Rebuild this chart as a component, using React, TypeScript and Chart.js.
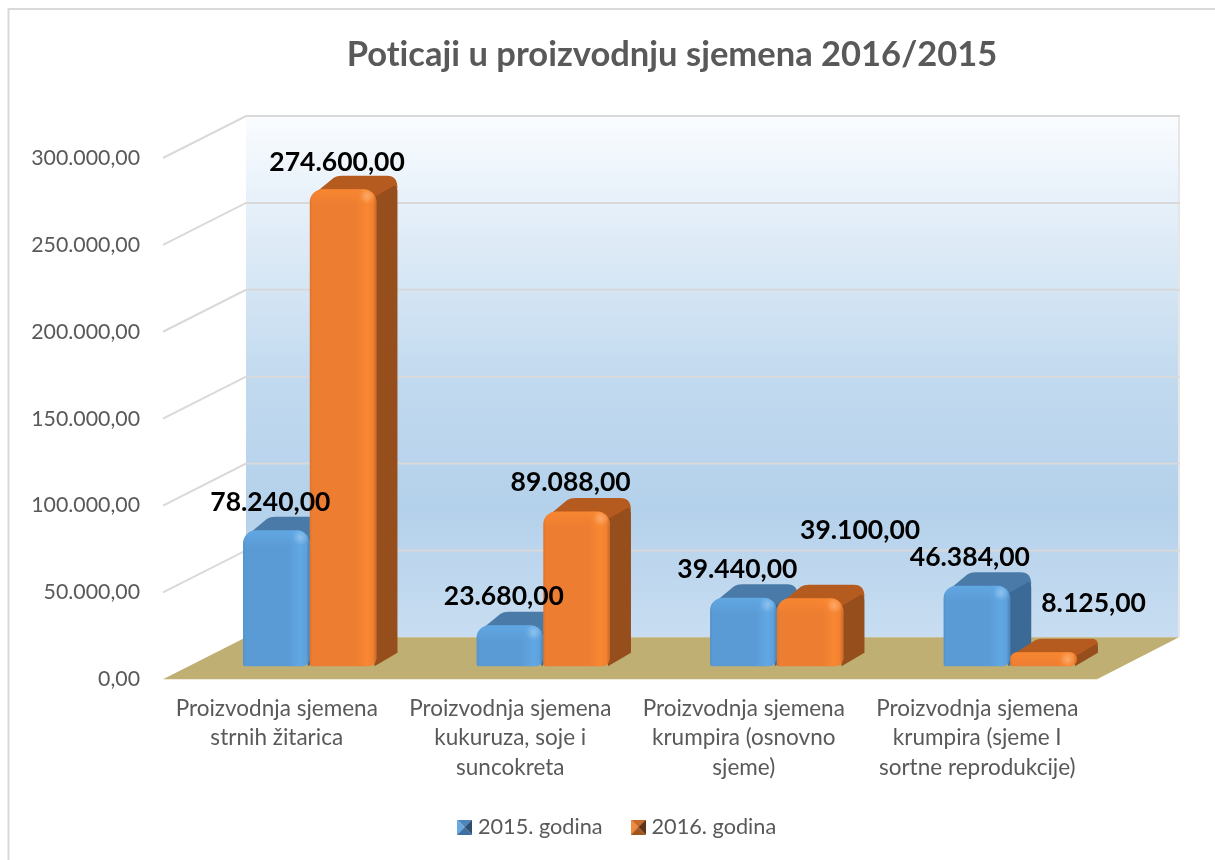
import React, { useEffect, useRef } from "react";
import { Chart, registerables } from "chart.js";

Chart.register(...registerables);

const chartTitle = "Poticaji u proizvodnju sjemena 2016/2015";
const categories = [
  ["Proizvodnja sjemena", "strnih žitarica"],
  ["Proizvodnja sjemena", "kukuruza, soje i", "suncokreta"],
  ["Proizvodnja sjemena", "krumpira (osnovno", "sjeme)"],
  ["Proizvodnja sjemena", "krumpira (sjeme I", "sortne reprodukcije)"],
];
const seriesNames = ["2015. godina", "2016. godina"];
const values2015 = [78240, 23680, 39440, 46384];
const values2016 = [274600, 89088, 39100, 8125];
const axisMax = 300000;
const axisStep = 50000;

const labelNudge = [
  [[-6, -28], [-6, -29], [-6, -28], [-7, -28]],
  [[-6, -27], [-6, -29], [50, -68], [50, -49]],
];

const FONT = "Lato, 'Open Sans', sans-serif";
const TEXT = "#595959";
const BAR = { dx: 21, dy: -13.5 };
const BACK = { dx: 53, dy: -29 };
const FRONT = { dx: -30, dy: 13 };

const palettes = [
  { front: "#5B9BD5", top: "#4A7BA8", side: "#3C6A96", light: "100,175,235" },
  { front: "#ED7D31", top: "#B65B1F", side: "#964E1C", light: "255,140,50" },
];

const fmt = (v: number) =>
  v.toLocaleString("de-DE", { minimumFractionDigits: 2, maximumFractionDigits: 2 });

function makeMarker(colors: string[]) {
  const c = document.createElement("canvas");
  c.width = 15;
  c.height = 15;
  const g = c.getContext("2d")!;
  const tri = (pts: number[][], col: string) => {
    g.fillStyle = col;
    g.beginPath();
    g.moveTo(pts[0][0], pts[0][1]);
    g.lineTo(pts[1][0], pts[1][1]);
    g.lineTo(7.5, 7.5);
    g.closePath();
    g.fill();
  };
  tri([[0, 0], [15, 0]], colors[0]);
  tri([[0, 0], [0, 15]], colors[1]);
  tri([[15, 0], [15, 15]], colors[2]);
  tri([[0, 15], [15, 15]], colors[3]);
  return c;
}

function paintDepth(chart: any, i: number) {
  const { ctx } = chart;
  const pal = palettes[i];
  chart.getDatasetMeta(i).data.forEach((el: any) => {
    const L = el.x - el.width / 2;
    const R = el.x + el.width / 2;
    const T = el.y;
    const B = el.base;
    const r = Math.min(13, (B - T) / 2);
    const { dx, dy } = BAR;
    ctx.save();
    ctx.fillStyle = pal.top;
    ctx.beginPath();
    ctx.moveTo(L + r * 0.3, T + r * 0.4);
    ctx.lineTo(L + dx + 3, T + dy + 2);
    ctx.quadraticCurveTo(L + dx + 6, T + dy, L + dx + 11, T + dy);
    ctx.lineTo(R + dx - r * 0.8, T + dy);
    ctx.quadraticCurveTo(R + dx, T + dy, R + dx, T + dy + r * 0.95);
    ctx.lineTo(R, T + r);
    ctx.lineTo(R - r, T + 1);
    ctx.closePath();
    ctx.fill();
    ctx.fillStyle = pal.side;
    ctx.beginPath();
    ctx.moveTo(R - 2, T + r * 0.6);
    ctx.lineTo(R + dx - r * 0.25, T + dy + r * 0.75);
    ctx.quadraticCurveTo(R + dx, T + dy + r * 0.85, R + dx, T + dy + r * 1.2);
    ctx.lineTo(R + dx, B + dy);
    ctx.lineTo(R - 2, B);
    ctx.closePath();
    ctx.fill();
    ctx.restore();
  });
}

function paintBevel(chart: any, i: number) {
  const { ctx } = chart;
  const pal = palettes[i];
  chart.getDatasetMeta(i).data.forEach((el: any) => {
    const L = el.x - el.width / 2;
    const R = el.x + el.width / 2;
    const T = el.y;
    const B = el.base;
    const h = B - T;
    const r = Math.min(13, h / 2);
    ctx.save();
    ctx.beginPath();
    ctx.roundRect(L, T, R - L, h, [r, r, Math.min(8, r), Math.min(2, r)]);
    ctx.clip();
    const hg = ctx.createLinearGradient(L, 0, R, 0);
    hg.addColorStop(0, "rgba(0,0,0,0.06)");
    hg.addColorStop(0.05, "rgba(0,0,0,0)");
    hg.addColorStop(0.68, `rgba(${pal.light},0)`);
    hg.addColorStop(0.86, `rgba(${pal.light},0.65)`);
    hg.addColorStop(0.95, `rgba(${pal.light},0.25)`);
    hg.addColorStop(1, "rgba(0,0,0,0.12)");
    ctx.fillStyle = hg;
    ctx.fillRect(L, T, R - L, h);
    const vg = ctx.createLinearGradient(0, T, 0, T + Math.min(16, h));
    vg.addColorStop(0, `rgba(${pal.light},0.6)`);
    vg.addColorStop(1, `rgba(${pal.light},0)`);
    ctx.fillStyle = vg;
    ctx.fillRect(L, T, R - L, Math.min(16, h));
    const sx = L + (R - L) * 0.86;
    const sy = T + Math.min(7, h / 2);
    const rg = ctx.createRadialGradient(sx, sy, 0, sx, sy, 8);
    rg.addColorStop(0, "rgba(255,255,255,0.28)");
    rg.addColorStop(1, "rgba(255,255,255,0)");
    ctx.fillStyle = rg;
    ctx.fillRect(sx - 8, sy - 8, 16, 16);
    ctx.restore();
  });
}

const decorPlugin = {
  id: "decor3d",
  afterLayout(chart: any) {
    const t = chart.titleBlock;
    const l = chart.legend;
    const tShift = 672 - (t.left + t.right) / 2;
    t.left += tShift;
    t.right += tShift;
    const lShift = 619 - (l.left + l.right) / 2;
    l.left += lShift;
    l.right += lShift;
  },
  beforeDraw(chart: any) {
    const { ctx, scales } = chart;
    ctx.letterSpacing = "0.01px";
    const x = scales.x;
    const y = scales.y;
    ctx.save();
    ctx.fillStyle = "#fff";
    ctx.fillRect(0, 0, chart.width, chart.height);
    ctx.strokeStyle = "#d9d9d9";
    ctx.lineWidth = 2;
    ctx.strokeRect(8.5, 9, chart.width + 20, chart.height + 20);

    const wl = x.left + BACK.dx;
    const wr = x.right + BACK.dx - 1;
    const wt = y.getPixelForValue(axisMax) + BACK.dy;
    const wb = y.getPixelForValue(0) + BACK.dy;
    const grad = ctx.createLinearGradient(0, wt, 0, wb);
    grad.addColorStop(0, "#FAFCFF");
    grad.addColorStop(0.17, "#E6F0F9");
    grad.addColorStop(0.5, "#C2DAEF");
    grad.addColorStop(0.75, "#B4D1EB");
    grad.addColorStop(1, "#C8DDF1");
    ctx.fillStyle = grad;
    ctx.fillRect(wl, wt, wr - wl, wb - wt);

    ctx.strokeStyle = "#e6e6e6";
    ctx.beginPath();
    ctx.moveTo(wr, wt);
    ctx.lineTo(wr, wb);
    ctx.stroke();

    ctx.strokeStyle = "#d9d9d9";
    ctx.lineWidth = 2;
    y.ticks.forEach((tk: any) => {
      if (tk.value === 0) return;
      const py = y.getPixelForValue(tk.value);
      ctx.beginPath();
      ctx.moveTo(x.left + FRONT.dx, py + FRONT.dy);
      ctx.lineTo(wl, py + BACK.dy);
      ctx.lineTo(wr + 1, py + BACK.dy);
      ctx.stroke();
    });

    const p0 = y.getPixelForValue(0);
    ctx.fillStyle = "#C0AF72";
    ctx.beginPath();
    ctx.moveTo(x.left + FRONT.dx, p0 + FRONT.dy);
    ctx.lineTo(x.right + FRONT.dx, p0 + FRONT.dy);
    ctx.lineTo(wr, wb);
    ctx.lineTo(wl, wb);
    ctx.closePath();
    ctx.fill();
    ctx.restore();
  },
  // Chart.js paints later datasets first; the 2016 series has to land on top of the 2015 one.
  beforeDatasetDraw(chart: any, args: any) {
    if (args.index === 1) return false;
    paintDepth(chart, 0);
    return true;
  },
  afterDatasetDraw(chart: any, args: any) {
    if (args.index !== 0) return;
    paintBevel(chart, 0);
    paintDepth(chart, 1);
    chart.getDatasetMeta(1).controller.draw();
    paintBevel(chart, 1);
  },
  afterDatasetsDraw(chart: any) {
    const { ctx } = chart;
    ctx.save();
    ctx.fillStyle = "#000";
    ctx.font = `bold 26.5px ${FONT}`;
    ctx.textAlign = "center";
    ctx.textBaseline = "middle";
    chart.data.datasets.forEach((ds: any, i: number) => {
      chart.getDatasetMeta(i).data.forEach((el: any, j: number) => {
        const [nx, ny] = labelNudge[i][j];
        ctx.fillText(fmt(ds.data[j]), el.x + nx, el.y + ny);
      });
    });
    ctx.restore();
  },
};

export default function App() {
  const ref = useRef<HTMLCanvasElement | null>(null);
  useEffect(() => {
    document.body.style.margin = "0";
    const markers = [
      makeMarker(["#4F86BA", "#6AA8E0", "#2E4F70", "#3F6F9E"]),
      makeMarker(["#C9692A", "#F08A3C", "#5E3212", "#A3551F"]),
    ];
    const chart = new Chart(ref.current!, {
      type: "bar",
      data: {
        labels: categories,
        datasets: [
          { label: seriesNames[0], data: values2015, backgroundColor: palettes[0].front, clip: false },
          { label: seriesNames[1], data: values2016, backgroundColor: palettes[1].front, clip: false },
        ],
      },
      plugins: [decorPlugin],
      options: {
        responsive: false,
        animation: false,
        layout: { padding: { left: 0, right: 88, top: 0, bottom: 12 } },
        datasets: {
          bar: {
            barPercentage: 1,
            categoryPercentage: 0.5714,
            borderSkipped: false,
            borderWidth: 0,
            borderRadius: { topLeft: 13, topRight: 13, bottomLeft: 2, bottomRight: 8 },
          },
        },
        scales: {
          x: {
            grid: { display: false, drawTicks: false },
            border: { display: false },
            afterFit: (s: any) => { s.height = 117; },
            ticks: {
              autoSkip: false,
              maxRotation: 0,
              minRotation: 0,
              padding: 27,
              labelOffset: -33,
              color: TEXT,
              font: { family: FONT, size: 22.5, lineHeight: 1.33 },
            },
          },
          y: {
            min: 0,
            max: axisMax,
            grid: { display: false, drawTicks: false },
            border: { display: false },
            afterFit: (s: any) => { s.width = 193; },
            ticks: {
              stepSize: axisStep,
              padding: 53,
              labelOffset: 13,
              color: TEXT,
              font: { family: FONT, size: 21.3 },
              callback: (v: any) => fmt(Number(v)),
            },
          },
        },
        plugins: {
          tooltip: { enabled: false },
          title: {
            display: true,
            text: chartTitle,
            color: TEXT,
            font: { family: FONT, size: 34.5, weight: "bold" },
            padding: { top: 34, bottom: 69.6 },
          },
          legend: {
            display: true,
            position: "bottom",
            labels: {
              usePointStyle: true,
              boxWidth: 5,
              boxHeight: 15,
              padding: 33,
              color: TEXT,
              font: { family: FONT, size: 21.7 },
              generateLabels: (c: any) =>
                c.data.datasets.map((ds: any, i: number) => ({
                  text: ds.label,
                  fillStyle: ds.backgroundColor,
                  strokeStyle: "transparent",
                  lineWidth: 0,
                  pointStyle: markers[i],
                  datasetIndex: i,
                  fontColor: TEXT,
                })),
            },
          },
        },
      },
    } as any);
    return () => chart.destroy();
  }, []);
  return <canvas ref={ref} width={1215} height={860} style={{ display: "block", width: 1215, height: 860 }} />;
}
